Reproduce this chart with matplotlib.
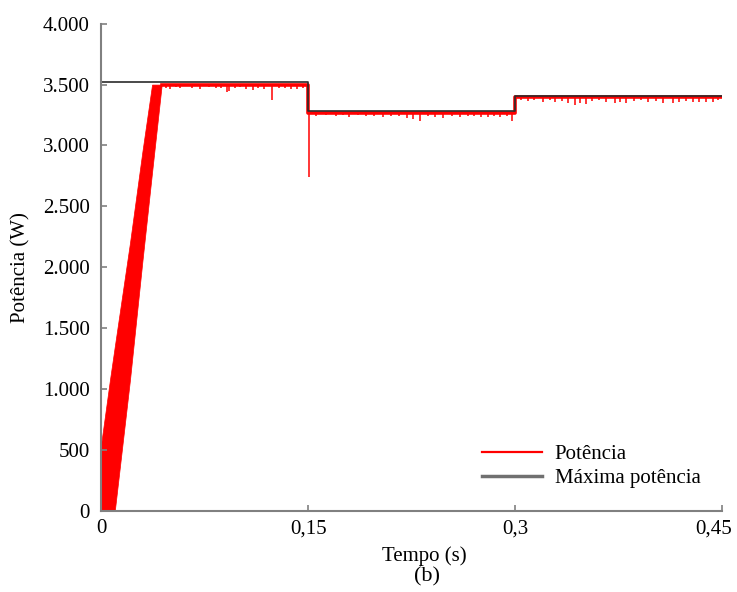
import matplotlib.pyplot as plt
from matplotlib.transforms import ScaledTranslation

plt.rcParams['font.family'] = ['Liberation Serif', 'DejaVu Serif']

# maximum available power (W), steps at 0.15 s and 0.3 s
t_step = [0.0, 0.15, 0.30, 0.45]
p_max = [3520, 3280, 3410, 3410]

# start-up: envelope of the oscillating power while tracking
ramp_t = [0.0, 0.0065, 0.010, 0.021, 0.030, 0.037, 0.044]
ramp_lo = [0, 0, 0, 1076, 2050, 2780, 3500]
ramp_hi = [540, 1076, 1350, 2200, 2950, 3500, 3500]

# power after the tracker settles
steady_t = [0.044, 0.15, 0.15, 0.30, 0.30, 0.45]
steady_p = [3500, 3500, 3270, 3270, 3395, 3395]

# dips of the tracked power
dip_t = [0.047, 0.050, 0.054, 0.057, 0.062, 0.066, 0.072, 0.078, 0.083, 0.087,
         0.091, 0.093, 0.097, 0.101, 0.105, 0.110, 0.114, 0.118, 0.124, 0.129,
         0.133, 0.138, 0.142, 0.146, 0.1505,
         0.156, 0.163, 0.170, 0.175, 0.180, 0.186, 0.192, 0.198, 0.204, 0.210,
         0.216, 0.222, 0.226, 0.231, 0.237, 0.242, 0.248, 0.254, 0.260, 0.266,
         0.270, 0.275, 0.280, 0.285, 0.289, 0.294, 0.298,
         0.304, 0.309, 0.314, 0.320, 0.325, 0.329, 0.334, 0.338, 0.343, 0.347,
         0.351, 0.356, 0.361, 0.366, 0.372, 0.376, 0.380, 0.386, 0.391, 0.396,
         0.402, 0.407, 0.414, 0.419, 0.424, 0.429, 0.433, 0.438, 0.443, 0.447]
dip_p = [3470, 3460, 3480, 3470, 3485, 3475, 3465, 3480, 3470, 3475,
         3440, 3450, 3470, 3480, 3460, 3455, 3470, 3465, 3370, 3470,
         3475, 3465, 3465, 3475, 2740,
         3245, 3250, 3240, 3250, 3235, 3250, 3245, 3240, 3230, 3245,
         3240, 3225, 3220, 3205, 3240, 3235, 3225, 3245, 3230, 3240,
         3245, 3230, 3235, 3245, 3230, 3245, 3200,
         3375, 3365, 3370, 3360, 3370, 3355, 3365, 3350, 3335, 3345,
         3340, 3365, 3370, 3360, 3350, 3355, 3350, 3365, 3370, 3360,
         3365, 3345, 3345, 3360, 3365, 3360, 3355, 3355, 3360, 3370]

x_ticks = [0, 0.15, 0.30, 0.45]
x_labels = ['0', '0,15', '0,3', '0,45']
y_ticks = [0, 500, 1000, 1500, 2000, 2500, 3000, 3500, 4000]


def base_level(t):
    if t < 0.15:
        return steady_p[0]
    if t < 0.30:
        return steady_p[2]
    return steady_p[4]


fig = plt.figure(figsize=(7.37, 5.92), dpi=100)
ax = fig.add_axes([0.137, 0.137, 0.843, 0.823])

red = '#ff0000'
ax.fill_between(ramp_t, ramp_lo, ramp_hi, color=red, lw=0.5)
ax.plot(steady_t, steady_p, color=red, lw=2.6, label='Potência')
ax.vlines(dip_t, dip_p, [base_level(t) for t in dip_t], color=red, lw=1.1)
ax.step(t_step, p_max, where='post', color='#2b2b2b', lw=1.2, label='Máxima potência')

ax.set_xlim(0, 0.45)
ax.set_ylim(0, 4000)
ax.set_xticks(x_ticks)
ax.set_xticklabels(x_labels)
ax.set_yticks(y_ticks)
ax.set_yticklabels([f'{v:,}'.replace(',', '.') for v in y_ticks])

for side in ['top', 'right']:
    ax.spines[side].set_visible(False)
for side in ['left', 'bottom']:
    ax.spines[side].set_color('#808080')
    ax.spines[side].set_linewidth(1.5)
ax.tick_params(direction='in', length=4, width=1.2, color='#808080',
               labelsize=15, labelcolor='black')
ax.tick_params(axis='y', pad=8)
ax.tick_params(axis='x', pad=6)

# last tick label sits at the right edge of the figure
last = ax.get_xticklabels()[-1]
last.set_transform(last.get_transform() + ScaledTranslation(-6 / 72, 0, fig.dpi_scale_trans))

ax.set_ylabel('Potência (W)', fontsize=15)
ax.yaxis.set_label_coords(-0.114, 0.5)
ax.set_xlabel('Tempo (s)', fontsize=15)
ax.xaxis.set_label_coords(0.52, -0.072)
fig.text(0.579, 0.026, '(b)', fontsize=16, ha='center', va='center')

leg = ax.legend(loc='lower right', bbox_to_anchor=(0.995, 0.008), frameon=False,
                fontsize=15, handlelength=2.9, handletextpad=0.6, labelspacing=0.2)
leg.get_lines()[0].set_linewidth(1.6)
leg.get_lines()[1].set_color('#707070')
leg.get_lines()[1].set_linewidth(2.5)

fig.savefig('out.png', dpi=100)
